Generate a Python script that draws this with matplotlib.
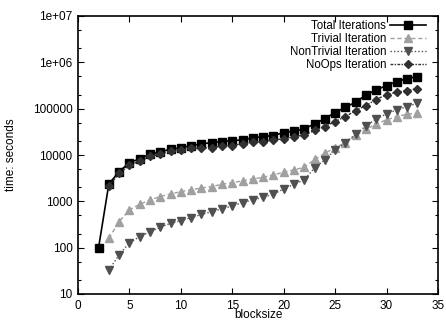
import matplotlib
matplotlib.use("Agg")
import matplotlib.pyplot as plt
from matplotlib.ticker import LogLocator, FixedLocator, NullFormatter

plt.rcParams['font.family'] = ['Liberation Sans', 'DejaVu Sans']

blocksize_total = list(range(2, 34))
total = [100, 2375, 4380, 6850, 8240, 10400, 11670, 13340, 14230, 15960, 17380,
         18540, 19460, 20460, 21190, 23390, 24990, 26250, 30460, 32650, 36620,
         47000, 61100, 82400, 107700, 138000, 198500, 254600, 315400, 384800,
         446600, 493500]

blocksize = list(range(3, 34))
trivial = [160, 365, 652, 865, 1072, 1265, 1445, 1622, 1763, 1950, 2077, 2340,
           2535, 2760, 3047, 3311, 3715, 4252, 4765, 5445, 8000, 10900, 14450,
           18540, 26700, 36060, 47000, 57300, 67600, 76000, 79800]
nontrivial = [33, 70, 128, 173, 222, 275, 336, 383, 445, 520, 600, 685, 796,
              938, 1072, 1227, 1422, 1853, 2338, 2898, 5300, 7840, 12880, 18540,
              28100, 42500, 60200, 77200, 94200, 111000, 131500]
noops = [2150, 4000, 6100, 7300, 9300, 10500, 12000, 12900, 14000, 14030,
         14450, 15480, 15960, 17620, 18890, 19460, 21190, 22280, 24950, 26790,
         34000, 41000, 52600, 67500, 91000, 116700, 157400, 201800, 226900,
         245900, 271800]

labels = ["Total Iterations", "Trivial Iteration", "NonTrivial Iteration", "NoOps Iteration"]
xticks = [0, 5, 10, 15, 20, 25, 30, 35]
yticks = [10, 100, 1000, 10000, 100000, 1000000, 10000000]
ytick_labels = ["10", "100", "1000", "10000", "100000", "1e+06", "1e+07"]

W, H = 446, 321
fig = plt.figure(figsize=(W/100, H/100), dpi=100)
ax = fig.add_axes([78/W, 1-294/H, 360/W, 278/H])

ax.plot(blocksize_total, total, color='black', lw=1.2, ls='-', marker='s', ms=5.3,
        label=labels[0])
ax.plot(blocksize, trivial, color='#a0a0a0', lw=1.0, ls=(0, (3, 2)), marker='^', ms=5.3,
        label=labels[1])
ax.plot(blocksize, nontrivial, color='#505050', lw=1.0, ls=(0, (1, 1.5)), marker='v', ms=5.3,
        label=labels[2])
ax.plot(blocksize, noops, color='#303030', lw=1.0, ls=(0, (2, 1, 1, 1)), marker='D', ms=4.0,
        label=labels[3])

ax.set_yscale('log')
ax.set_xlim(0, 35)
ax.set_ylim(10, 1e7)
ax.xaxis.set_major_locator(FixedLocator(xticks))
ax.set_xticklabels([str(t) for t in xticks])
ax.yaxis.set_major_locator(FixedLocator(yticks))
ax.set_yticklabels(ytick_labels)
ax.yaxis.set_minor_locator(LogLocator(base=10, subs=[2, 5]))
ax.yaxis.set_minor_formatter(NullFormatter())

ax.tick_params(which='both', direction='in', top=True, right=True, labelsize=8.5, pad=4)
ax.tick_params(which='major', length=4, width=0.8)
ax.tick_params(which='minor', length=2.5, width=0.8)
for s in ax.spines.values():
    s.set_linewidth(1.2)

ax.set_xlabel("blocksize", fontsize=8.5, labelpad=-2)
ax.set_ylabel("time: seconds", fontsize=8.5, labelpad=11)

leg = ax.legend(loc='upper right', markerfirst=False, frameon=False, fontsize=8.3,
                handlelength=3.1, handletextpad=0.35, labelspacing=0.08,
                borderaxespad=0, borderpad=0, numpoints=1,
                bbox_to_anchor=(426/W, 1-20/H), bbox_transform=fig.transFigure)

fig.savefig("out.png", dpi=100)
